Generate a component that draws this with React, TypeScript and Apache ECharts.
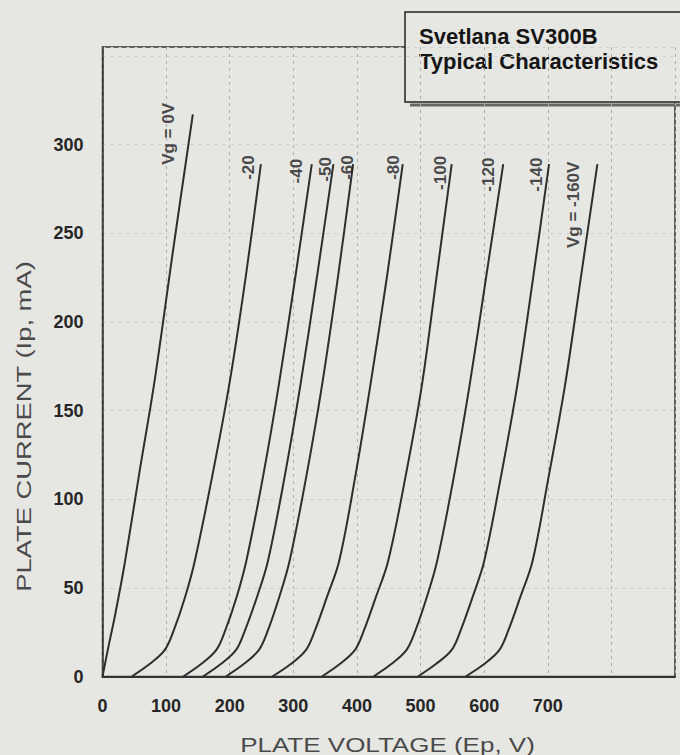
import React, { useEffect, useRef } from "react";
import * as echarts from "echarts";

// Plate current levels (mA) at which voltages were read for the biased curves
const CURRENT_LEVELS = [0, 7, 15, 26, 45, 65, 112, 164, 225, 289];

// Vg = 0 V curve
const VG0_VOLTS = [0, 10, 20, 35, 58, 82, 112, 142];
const VG0_CURRENT = [0, 18, 35, 64, 115, 167, 243, 317];

// Plate voltage (V) of each biased curve at CURRENT_LEVELS
const VG20_VOLTS = [46, 74, 98, 112, 130, 145, 172, 199, 225, 249];
const VG40_VOLTS = [127, 155, 179, 193, 211, 226, 252, 277, 303, 329];
const VG50_VOLTS = [158, 186, 210, 224, 243, 260, 286, 311, 337, 363];
const VG60_VOLTS = [194, 222, 246, 260, 278, 294, 320, 345, 370, 394];
const VG80_VOLTS = [267, 296, 320, 334, 353, 372, 397, 421, 447, 472];
const VG100_VOLTS = [345, 373, 397, 411, 430, 449, 476, 502, 525, 549];
const VG120_VOLTS = [426, 454, 478, 492, 510, 526, 552, 577, 603, 630];
const VG140_VOLTS = [496, 524, 549, 563, 582, 600, 626, 652, 677, 702];
const VG160_VOLTS = [571, 600, 624, 638, 657, 676, 701, 727, 752, 778];

const CURVE_NAMES = ["Vg = 0V", "-20", "-40", "-50", "-60", "-80", "-100", "-120", "-140", "Vg = -160V"];
// Label anchors in data units [V, mA]
const LABEL_V = [103, 229, 305, 350, 385, 457, 531, 607, 683, 740];
const LABEL_I = [306, 287, 285, 286, 287, 287, 284, 283, 283, 266];

const X_TICK_MAX = 700;
const Y_TICK_MAX = 300;

const TITLE_LINE1 = "Svetlana SV300B";
const TITLE_LINE2 = "Typical Characteristics";
const X_NAME = "PLATE VOLTAGE (Ep, V)";
const Y_NAME = "PLATE CURRENT (Ip, mA)";

const BG = "#e6e6e3";
const INK = "#262626";
const FONT = "'Liberation Sans', Arial, sans-serif";

function pairs(xs: number[], ys: number[]) {
  return xs.map((x, i) => [x, ys[i]]);
}

export default function App() {
  const ref = useRef<HTMLDivElement>(null);
  useEffect(() => {
    if (!ref.current) return;
    const chart = echarts.init(ref.current, null, { renderer: "svg" });
    const biased = [VG20_VOLTS, VG40_VOLTS, VG50_VOLTS, VG60_VOLTS, VG80_VOLTS, VG100_VOLTS, VG120_VOLTS, VG140_VOLTS, VG160_VOLTS];
    const curves = [pairs(VG0_VOLTS, VG0_CURRENT), ...biased.map((v) => pairs(v, CURRENT_LEVELS))];
    const lineSeries = curves.map((d, i) => ({
      type: "line",
      name: CURVE_NAMES[i],
      data: d,
      smooth: 0.35,
      showSymbol: false,
      symbol: "none",
      lineStyle: { color: "#2e2e2e", width: 2 },
      z: 5,
    }));
    const labelSeries = {
      type: "scatter",
      symbolSize: 0,
      data: CURVE_NAMES.map((n, i) => ({ name: n, value: [LABEL_V[i], LABEL_I[i]] })),
      label: {
        show: true,
        position: "inside",
        formatter: (p: any) => p.name,
        rotate: 90,
        align: "center",
        verticalAlign: "middle",
        color: "#1e1e1e",
        fontFamily: FONT,
        fontWeight: "bold",
        fontSize: 17,
      },
      z: 6,
    };
    chart.setOption({
      animation: false,
      backgroundColor: BG,
      grid: {
        left: 102.5,
        right: 5,
        top: 47,
        bottom: 78.5,
        show: true,
        borderColor: "#333",
        borderWidth: 1.5,
        backgroundColor: "transparent",
      },
      xAxis: {
        type: "value",
        min: 0,
        max: 900,
        interval: 100,
        axisLine: { show: true, lineStyle: { color: "#333", width: 2 } },
        axisTick: { show: false },
        axisLabel: {
          margin: 20,
          color: INK,
          fontFamily: FONT,
          fontWeight: "bold",
          fontSize: 18,
          formatter: (v: number) => (v <= X_TICK_MAX ? String(v) : ""),
        },
        splitLine: { show: true, lineStyle: { color: "#adadab", width: 1, type: [3, 4] } },
      },
      yAxis: {
        type: "value",
        min: 0,
        max: 355,
        interval: 50,
        axisLine: { show: true, lineStyle: { color: "#333", width: 1.5 } },
        axisTick: { show: false },
        axisLabel: {
          margin: 19,
          color: INK,
          fontFamily: FONT,
          fontWeight: "bold",
          fontSize: 18,
          formatter: (v: number) => (v <= Y_TICK_MAX ? String(v) : ""),
        },
        splitLine: { show: true, lineStyle: { color: "#cfcfcd", width: 1, type: [3, 5] } },
      },
      series: [...lineSeries, labelSeries],
      graphic: [
        {
          type: "group",
          z: 100,
          children: [
            { type: "line", shape: { x1: 410, y1: 105, x2: 680, y2: 105 }, style: { stroke: "#666", lineWidth: 3 } },
            { type: "rect", shape: { x: 405, y: 12, width: 300, height: 90 }, style: { fill: BG, stroke: "#222", lineWidth: 1.5 } },
            {
              type: "text",
              x: 419,
              y: 36,
              style: { text: TITLE_LINE1, fill: "#151515", font: `bold 22px ${FONT}`, align: "left", verticalAlign: "middle" },
            },
            {
              type: "text",
              x: 419,
              y: 61,
              style: { text: TITLE_LINE2, fill: "#151515", font: `bold 22px ${FONT}`, align: "left", verticalAlign: "middle" },
            },
          ],
        },
        {
          type: "text",
          x: 23.5,
          y: 426.5,
          rotation: Math.PI / 2,
          scaleX: 1.37,
          style: { text: Y_NAME, fill: "#4a4a4a", font: `20px ${FONT}`, align: "center", verticalAlign: "middle" },
        },
        {
          type: "text",
          x: 387.5,
          y: 745,
          scaleX: 1.3,
          style: { text: X_NAME, fill: "#4a4a4a", font: `20px ${FONT}`, align: "center", verticalAlign: "middle" },
        },
      ],
    });
    return () => chart.dispose();
  }, []);
  return (
    <div
      ref={ref}
      style={{ position: "fixed", left: 0, top: 0, width: 680, height: 755, background: BG }}
    />
  );
}
